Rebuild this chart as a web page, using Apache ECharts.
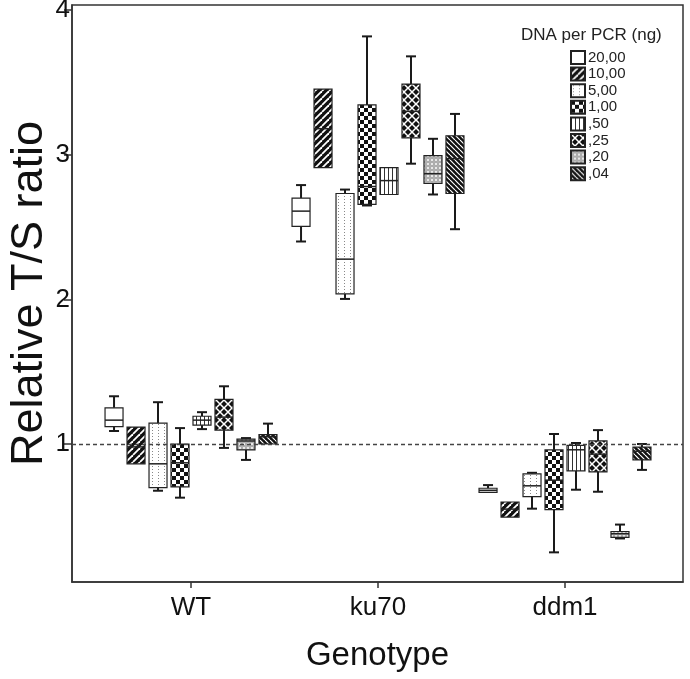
<!DOCTYPE html>
<html><head><meta charset="utf-8">
<script src="https://cdn.jsdelivr.net/npm/echarts@6/dist/echarts.min.js"></script>
<style>html,body{margin:0;padding:0;background:#fff}#c{width:690px;height:679px}</style>
</head><body><div id="c"></div>
<script>
// ---- data ----
const genotypes = ['WT', 'ku70', 'ddm1'];
const doses = ['20,00', '10,00', '5,00', '1,00', ',50', ',25', ',20', ',04'];
const yTicks = [1, 2, 3, 4];
// each row: [low whisker, Q1, median, Q3, high whisker] for WT, ku70, ddm1
const dose20_00 = [[1.09, 1.12, 1.165, 1.25, 1.33], [2.40, 2.505, 2.61, 2.70, 2.79], [0.666, 0.666, 0.68, 0.694, 0.716]];
const dose10_00 = [[0.863, 0.863, 0.98, 1.117, 1.117], [2.911, 2.911, 3.18, 3.454, 3.454], [0.495, 0.495, 0.55, 0.599, 0.599]];
const dose5_00 = [[0.677, 0.698, 0.863, 1.144, 1.289], [2.003, 2.038, 2.278, 2.732, 2.759], [0.553, 0.636, 0.711, 0.794, 0.801]];
const dose1_00 = [[0.629, 0.704, 0.87, 1.0, 1.110], [2.649, 2.656, 2.78, 3.344, 3.818], [0.251, 0.546, 0.75, 0.959, 1.069]];
const dose0_50 = [[1.103, 1.131, 1.165, 1.192, 1.220], [2.725, 2.725, 2.821, 2.911, 2.911], [0.684, 0.814, 0.96, 0.99, 1.007]];
const dose0_25 = [[0.973, 1.096, 1.186, 1.309, 1.399], [2.938, 3.117, 3.30, 3.488, 3.680], [0.670, 0.808, 0.93, 1.021, 1.096]];
const dose0_20 = [[0.890, 0.959, 1.021, 1.034, 1.041], [2.725, 2.801, 2.869, 2.993, 3.110], [0.347, 0.354, 0.38, 0.395, 0.443]];
const dose0_04 = [[1.0, 1.0, 1.05, 1.065, 1.141], [2.485, 2.732, 2.973, 3.131, 3.282], [0.821, 0.890, 0.95, 0.979, 1.0]];
const doseData = [dose20_00, dose10_00, dose5_00, dose1_00, dose0_50, dose0_25, dose0_20, dose0_04];

// ---- fill patterns ----
function tile(w, h, draw) {
  const c = document.createElement('canvas'); c.width = w; c.height = h;
  const g = c.getContext('2d'); draw(g, w, h);
  return { image: c, repeat: 'repeat' };
}
const patterns = [
  '#ffffff',
  tile(7, 7, (g, w, h) => { g.fillStyle = '#111'; g.fillRect(0, 0, w, h); g.strokeStyle = '#fff'; g.lineWidth = 1.8;
    for (const k of [-7, 0, 7]) { g.beginPath(); g.moveTo(k, h); g.lineTo(k + w, 0); g.stroke(); } }),
  tile(6, 3, (g, w, h) => { g.fillStyle = '#fff'; g.fillRect(0, 0, w, h); g.fillStyle = '#888'; g.fillRect(2, 1, 1, 1); }),
  tile(8, 8, (g, w, h) => { g.fillStyle = '#fff'; g.fillRect(0, 0, w, h); g.fillStyle = '#111'; g.fillRect(0, 0, 4, 4); g.fillRect(4, 4, 4, 4); }),
  tile(4, 2, (g, w, h) => { g.fillStyle = '#fff'; g.fillRect(0, 0, w, h); g.fillStyle = '#333'; g.fillRect(0, 0, 1, h); }),
  tile(8, 8, (g, w, h) => { g.fillStyle = '#111'; g.fillRect(0, 0, w, h); g.strokeStyle = '#fff'; g.lineWidth = 1.5;
    g.beginPath(); g.moveTo(0, 0); g.lineTo(8, 8); g.moveTo(8, 0); g.lineTo(0, 8); g.stroke(); }),
  tile(4, 4, (g, w, h) => { g.fillStyle = '#e8e8e8'; g.fillRect(0, 0, w, h); g.strokeStyle = '#888'; g.lineWidth = 1;
    g.beginPath(); g.arc(2, 2, 1.3, 0, Math.PI * 2); g.stroke(); }),
  tile(5, 5, (g, w, h) => { g.fillStyle = '#111'; g.fillRect(0, 0, w, h); g.strokeStyle = '#fff'; g.lineWidth = 1.2;
    for (const k of [-5, 0, 5]) { g.beginPath(); g.moveTo(k, 0); g.lineTo(k + w, h); g.stroke(); } })
];

const FONT = "'Liberation Sans', Arial, sans-serif";
const boxStep = 0.1176;

function makeRender(s) {
  const off = (s - 3.5) * boxStep;
  return function (params, api) {
    const x = api.value(0) + off;
    const lo = api.coord([x, api.value(1)]);
    const q1 = api.coord([x, api.value(2)]);
    const md = api.coord([x, api.value(3)]);
    const q3 = api.coord([x, api.value(4)]);
    const hi = api.coord([x, api.value(5)]);
    const cx = lo[0];
    const ls = { stroke: '#1a1a1a', lineWidth: 2 };
    const line = (x1, y1, x2, y2) => ({ type: 'line', shape: { x1, y1, x2, y2 }, style: ls });
    const ch = [];
    if (hi[1] < q3[1] - 0.5) { ch.push(line(cx, q3[1], cx, hi[1])); ch.push(line(cx - 5, hi[1], cx + 5, hi[1])); }
    if (lo[1] > q1[1] + 0.5) { ch.push(line(cx, q1[1], cx, lo[1])); ch.push(line(cx - 5, lo[1], cx + 5, lo[1])); }
    ch.push({ type: 'rect', shape: { x: cx - 9, y: q3[1], width: 18, height: Math.max(1, q1[1] - q3[1]) },
      style: { fill: patterns[s], stroke: '#222', lineWidth: 1.2 } });
    ch.push({ type: 'line', shape: { x1: cx - 9, y1: md[1], x2: cx + 9, y2: md[1] }, style: { stroke: '#222', lineWidth: 1.5 } });
    return { type: 'group', children: ch };
  };
}

const series = doses.map((name, s) => ({
  type: 'custom',
  name: name,
  renderItem: makeRender(s),
  itemStyle: { color: patterns[s], borderColor: '#222', borderWidth: 1 },
  encode: { x: 0, y: [1, 2, 3, 4, 5] },
  data: doseData[s].map((v, g) => [g + 1].concat(v)),
  emphasis: { disabled: true },
  silent: true,
  markLine: s === 0 ? {
    silent: true, symbol: 'none', label: { show: false },
    lineStyle: { type: [4, 3], color: '#444', width: 1.3 },
    data: [{ yAxis: 1 }]
  } : undefined
}));

const chart = echarts.init(document.getElementById('c'));
chart.setOption({
  animation: false,
  backgroundColor: '#fff',
  textStyle: { fontFamily: FONT },
  title: {
    text: 'DNA per PCR (ng)', left: 516, top: 22,
    textStyle: { fontFamily: FONT, fontSize: 17, fontWeight: 'normal', color: '#222' }
  },
  legend: {
    orient: 'vertical', left: 565, top: 45, icon: 'rect',
    itemWidth: 14, itemHeight: 13, itemGap: 1.6,
    data: doses,
    textStyle: { fontFamily: FONT, fontSize: 15, lineHeight: 13, color: '#222', padding: [0, 0, 0, -2] },
    selectedMode: false
  },
  grid: { left: 72, right: 7, top: 5, bottom: 97, show: true, borderColor: '#333', borderWidth: 1.5, outerBoundsMode: 'none', containLabel: false },
  xAxis: {
    type: 'value', min: 0.3636, max: 3.631,
    axisLine: { show: true, lineStyle: { color: '#333', width: 1.5 } },
    axisTick: { show: true, customValues: [1, 2, 3], length: 6, lineStyle: { color: '#333', width: 1.5 } },
    axisLabel: { customValues: [1, 2, 3], formatter: v => genotypes[Math.round(v) - 1], fontSize: 26, color: '#111', margin: 13, fontFamily: FONT },
    splitLine: { show: false },
    name: 'Genotype', nameLocation: 'middle', nameGap: 57,
    nameTextStyle: { fontSize: 33, color: '#111', fontFamily: FONT }
  },
  yAxis: {
    type: 'value', min: 0.046, max: 4.035,
    axisLine: { show: true, lineStyle: { color: '#333', width: 1.5 } },
    axisTick: { show: true, customValues: yTicks, length: 8, lineStyle: { color: '#333', width: 1.5 } },
    axisLabel: { customValues: yTicks, formatter: v => String(v), fontSize: 26, color: '#111', margin: 2, fontFamily: FONT },
    splitLine: { show: false },
    name: 'Relative T/S ratio', nameLocation: 'middle', nameGap: 20, nameMoveOverlap: false,
    nameTextStyle: { fontSize: 45, color: '#111', fontFamily: FONT }
  },
  series: series
});
</script></body></html>
